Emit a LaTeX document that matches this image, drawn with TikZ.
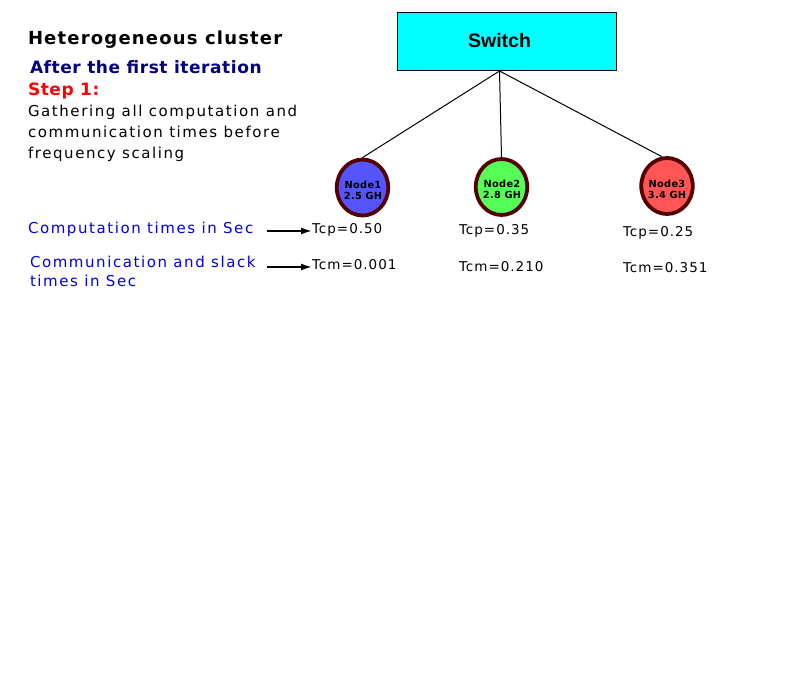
\documentclass[tikz,border=0pt]{standalone}
\usepackage{fontspec}
\setmainfont{DejaVu Sans}
\newfontfamily\arialfont{Liberation Sans}
\newfontfamily\lsbody[LetterSpace=10.5]{DejaVu Sans}
\newfontfamily\lstitle[LetterSpace=6.6]{DejaVu Sans}
\newfontfamily\lsafter[LetterSpace=3.3]{DejaVu Sans}
\newfontfamily\lsval[LetterSpace=7.4]{DejaVu Sans}
\newfontfamily\lsnode[LetterSpace=3]{DejaVu Sans}
\usetikzlibrary{shapes.geometric,arrows.meta}
\definecolor{swcyan}{RGB}{0,255,255}
\definecolor{ringred}{RGB}{85,0,0}
\definecolor{nblue}{RGB}{85,85,255}
\definecolor{ngreen}{RGB}{85,255,85}
\definecolor{nred}{RGB}{255,85,85}
\definecolor{navyblue}{RGB}{0,0,128}
\definecolor{labblue}{RGB}{0,0,230}
\definecolor{stepred}{RGB}{255,0,0}
\tikzset{
  txt/.style={anchor=base west, inner sep=0pt, outer sep=0pt},
  bodytxt/.style={txt, font=\lsbody\fontsize{15}{20}\selectfont},
  valtxt/.style={txt, font=\lsval\fontsize{13.5}{16}\selectfont},
  cnode/.style={ellipse, draw=ringred, line width=3.8pt, minimum width=51.5pt, minimum height=56pt, inner sep=0pt},
  clabel/.style={inner sep=0pt, align=center, font=\lsnode\fontsize{9.8}{11}\selectfont\bfseries},
  link/.style={line width=1pt},
  pointer/.style={line width=1.8pt, -{Latex[length=11pt,width=7pt]}},
}
\begin{document}
\begin{tikzpicture}[x=1pt,y=-1pt]
\useasboundingbox (0,0) rectangle (800,698);
\fill[white] (0,0) rectangle (800,698);
% switch
\node[draw, line width=1pt, fill=swcyan, minimum width=219pt, minimum height=58pt, inner sep=0pt] (switch) at (506.5,42) {};
\node[txt, anchor=base, font=\arialfont\fontsize{19.5}{22}\selectfont\bfseries] (swlab) at (499.5,48) {Switch};
\coordinate (sw) at (499.5,71);
% nodes
\node[cnode, fill=nblue] (n1) at (362.5,187.5) {};
\node[cnode, fill=ngreen] (n2) at (501.5,187) {};
\node[cnode, fill=nred] (n3) at (667,186) {};
\node[clabel] (n1lab) at (363,190) {Node1\\2.5 GH};
\node[clabel] (n2lab) at (502,189) {Node2\\2.8 GH};
\node[clabel] (n3lab) at (667,189) {Node3\\3.4 GH};
\draw[link] (sw) -- (n1.north);
\draw[link] (sw) -- (n2.north);
\draw[link] (sw) -- (n3.100);
% left texts
\node[txt, font=\lstitle\fontsize{18}{20}\selectfont\bfseries] (title) at (28,45) {Heterogeneous cluster};
\node[txt, text=navyblue, font=\lsafter\fontsize{17}{20}\selectfont\bfseries] (after) at (30,74) {After the first iteration};
\node[txt, text=stepred, font=\lsafter\fontsize{17}{20}\selectfont\bfseries] (step) at (28,96) {Step 1:};
\node[bodytxt] (body1) at (28,117) {Gathering all computation and};
\node[bodytxt] (body2) at (28,138) {communication times before};
\node[bodytxt] (body3) at (28,158) {frequency scaling};
\node[bodytxt, text=labblue] (comp) at (28,233) {Computation times in Sec};
\node[bodytxt, text=labblue] (comm1) at (30,267) {Communication and slack};
\node[bodytxt, text=labblue] (comm2) at (30,286) {times in Sec};
% values
\node[valtxt] (tcp1) at (312,233) {Tcp=0.50};
\node[valtxt] (tcm1) at (312,269) {Tcm=0.001};
\node[valtxt] (tcp2) at (459,234) {Tcp=0.35};
\node[valtxt] (tcm2) at (459,271) {Tcm=0.210};
\node[valtxt] (tcp3) at (623,236) {Tcp=0.25};
\node[valtxt] (tcm3) at (623,272) {Tcm=0.351};
% arrows
\coordinate (a1) at (267,231);
\coordinate (a2) at (267,267);
\draw[pointer] (a1) -- (tcp1.west |- a1);
\draw[pointer] (a2) -- (tcm1.west |- a2);
\end{tikzpicture}
\end{document}
